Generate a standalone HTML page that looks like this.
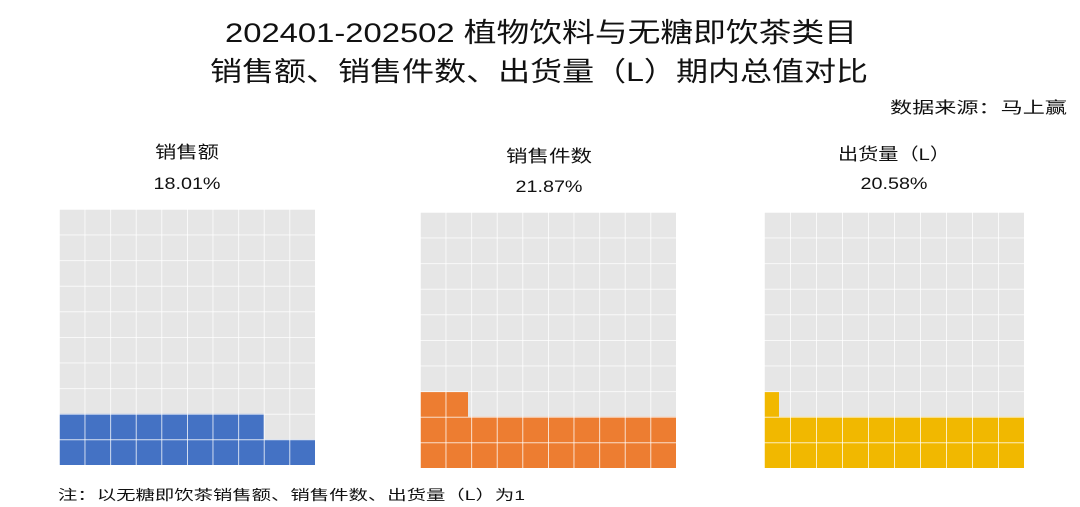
<!DOCTYPE html>
<html><head><meta charset="utf-8"><style>
html,body{margin:0;padding:0;background:#fff;width:1080px;height:507px;overflow:hidden}
text{font-family:"Liberation Sans","Noto Sans CJK SC",sans-serif;fill:#111}
</style></head><body>
<svg width="1080" height="507" viewBox="0 0 1080 507" xmlns="http://www.w3.org/2000/svg">
<text x="541" y="42" font-size="27" text-anchor="middle" textLength="632" lengthAdjust="spacingAndGlyphs">202401-202502 植物饮料与无糖即饮茶类目</text>
<text x="539" y="81" font-size="27" text-anchor="middle" textLength="658" lengthAdjust="spacingAndGlyphs">销售额、销售件数、出货量（L）期内总值对比</text>
<text x="1067" y="113" font-size="16" text-anchor="end" textLength="177" lengthAdjust="spacingAndGlyphs">数据来源：马上赢</text>

<text x="187" y="158" font-size="17" text-anchor="middle" textLength="64" lengthAdjust="spacingAndGlyphs">销售额</text>
<text x="187" y="189" font-size="17" text-anchor="middle" textLength="67" lengthAdjust="spacingAndGlyphs">18.01%</text>
<text x="549" y="162" font-size="17" text-anchor="middle" textLength="86" lengthAdjust="spacingAndGlyphs">销售件数</text>
<text x="549" y="192" font-size="17" text-anchor="middle" textLength="67" lengthAdjust="spacingAndGlyphs">21.87%</text>
<text x="894" y="160" font-size="17" text-anchor="middle" textLength="112" lengthAdjust="spacingAndGlyphs">出货量（L）</text>
<text x="894" y="189" font-size="17" text-anchor="middle" textLength="67" lengthAdjust="spacingAndGlyphs">20.58%</text>

<text x="58" y="500" font-size="14" textLength="467" lengthAdjust="spacingAndGlyphs">注：以无糖即饮茶销售额、销售件数、出货量（L）为1</text>

<defs>
<pattern id="g" width="25.6" height="25.6" patternUnits="userSpaceOnUse">
<path d="M0 0H25.6M0 0V25.6" stroke="#fff" stroke-width="1.5" fill="none"/>
</pattern>
<pattern id="g3" width="26" height="25.6" patternUnits="userSpaceOnUse">
<path d="M0 0H26M0 0V25.6" stroke="#fff" stroke-width="1.5" fill="none"/>
</pattern>
</defs>

<g transform="translate(59,209)">
<rect width="256" height="256" fill="#e6e6e6"/>
<rect x="0" y="230.4" width="256" height="25.6" fill="#4472c4"/>
<rect x="0" y="204.8" width="204.8" height="25.6" fill="#4472c4"/>
<rect width="256" height="256" fill="url(#g)"/>
</g>
<g transform="translate(420,212)">
<rect width="256" height="256" fill="#e6e6e6"/>
<rect x="0" y="204.8" width="256" height="51.2" fill="#ed7d31"/>
<rect x="0" y="180" width="48" height="25" fill="#ed7d31"/>
<rect width="256" height="256" fill="url(#g)"/>
</g>
<g transform="translate(764,212)">
<rect width="260" height="256" fill="#e6e6e6"/>
<rect x="0" y="204.8" width="260" height="51.2" fill="#f1b800"/>
<rect x="0" y="180" width="15" height="25" fill="#f1b800"/>
<rect width="260" height="256" fill="url(#g3)"/>
</g>
</svg>
</body></html>
